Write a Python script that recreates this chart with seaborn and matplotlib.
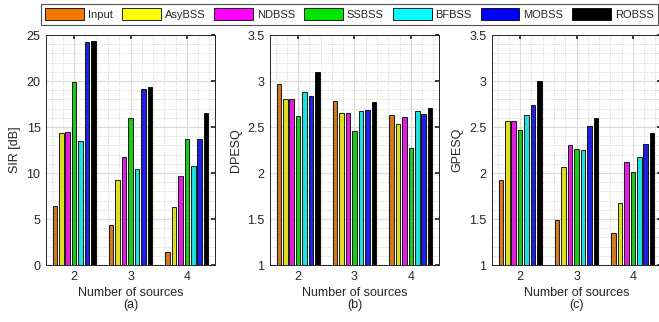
import numpy as np
import pandas as pd
import matplotlib
matplotlib.use("Agg")
import matplotlib.pyplot as plt
from matplotlib.patches import Patch
from matplotlib.ticker import MultipleLocator, FuncFormatter
import seaborn as sns

methods = ["Input", "AsyBSS", "NDBSS", "SSBSS", "BFBSS", "MOBSS", "ROBSS"]
colors = ["#F07800", "#FFFF00", "#FF00FF", "#00E400", "#00FFFF", "#0000FF", "#000000"]
sources = ["2", "3", "4"]

# rows: sources 2, 3, 4; columns: methods
sir = [[6.4, 14.4, 14.5, 19.9, 13.5, 24.2, 24.3],
       [4.4, 9.2, 11.7, 16.0, 10.4, 19.1, 19.3],
       [1.4, 6.3, 9.7, 13.7, 10.8, 13.7, 16.5]]
dpesq = [[2.97, 2.80, 2.80, 2.62, 2.88, 2.84, 3.10],
         [2.78, 2.65, 2.65, 2.46, 2.67, 2.69, 2.77],
         [2.63, 2.53, 2.61, 2.27, 2.67, 2.64, 2.71]]
gpesq = [[1.92, 2.56, 2.56, 2.47, 2.63, 2.74, 3.00],
         [1.49, 2.07, 2.30, 2.26, 2.25, 2.51, 2.60],
         [1.35, 1.67, 2.12, 2.01, 2.17, 2.32, 2.43]]


def to_long(values):
    rows = []
    for s, vals in zip(sources, values):
        for m, v in zip(methods, vals):
            rows.append({"sources": s, "method": m, "value": v})
    return pd.DataFrame(rows)


sns.set_theme(style="white")
plt.rcParams["font.family"] = ["Liberation Sans", "DejaVu Sans"]

fig = plt.figure(figsize=(6.59, 3.22), dpi=100)
W, H = 659, 322
top, bottom = 35, 265
lefts = [46, 270, 492]
width = 169

panels = [(sir, "SIR [dB]", (0, 25), 5, 1, "(a)"),
          (dpesq, "DPESQ", (1, 3.5), 0.5, 0.1, "(b)"),
          (gpesq, "GPESQ", (1, 3.5), 0.5, 0.1, "(c)")]

for left, (vals, ylab, ylim, major, minor, tag) in zip(lefts, panels):
    ax = fig.add_axes([left / W, 1 - bottom / H, width / W, (bottom - top) / H])
    df = to_long(vals)
    sns.barplot(data=df, x="sources", y="value", hue="method", hue_order=methods,
                palette=colors, width=0.8, gap=0.3, edgecolor="black", linewidth=0.6,
                legend=False, ax=ax, zorder=3)
    ax.set_xlim(-0.5, 2.5)
    ax.set_ylim(*ylim)
    ax.yaxis.set_major_locator(MultipleLocator(major))
    ax.yaxis.set_minor_locator(MultipleLocator(minor))
    ax.yaxis.set_major_formatter(FuncFormatter(lambda v, p: f"{v:g}"))
    ax.xaxis.set_minor_locator(MultipleLocator(0.2))
    ax.set_axisbelow(True)
    ax.grid(True, which="major", color="#DADADA", linewidth=0.8)
    ax.grid(True, which="minor", color="#C8C8C8", linestyle=":", linewidth=0.6)
    ax.tick_params(axis="both", which="major", direction="in", length=3, labelsize=9,
                   top=True, right=True, colors="#262626", pad=4)
    ax.tick_params(axis="both", which="minor", length=0)
    for sp in ax.spines.values():
        sp.set_color("#262626")
        sp.set_linewidth(0.7)
    ax.set_ylabel(ylab, fontsize=9, color="#262626", labelpad=4)
    ax.set_xlabel("Number of sources\n" + tag, fontsize=9, color="#262626",
                  linespacing=1.0, labelpad=3)

handles = [Patch(facecolor=c, edgecolor="black", linewidth=0.6) for c in colors]
leg = fig.legend(handles, methods, loc="upper left", bbox_to_anchor=(41 / W, 1 - 4 / H),
                 ncol=7, fontsize=8, frameon=True, fancybox=False,
                 handlelength=3.5, handleheight=1.25, columnspacing=0.8, handletextpad=0.35,
                 borderpad=0.4, borderaxespad=0)
leg.get_frame().set_edgecolor("#262626")
leg.get_frame().set_linewidth(0.8)

fig.savefig("out.png", dpi=100)
